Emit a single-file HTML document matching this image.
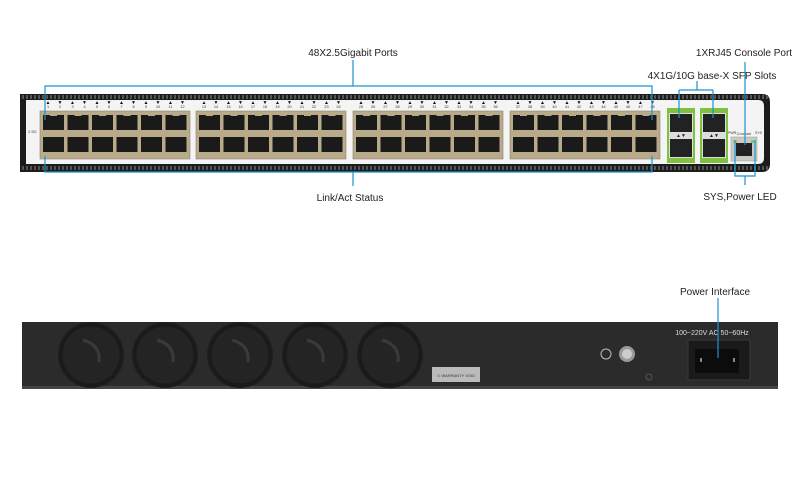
<!DOCTYPE html>
<html><head><meta charset="utf-8"><style>
html,body{margin:0;padding:0;background:#fff;width:800px;height:500px;overflow:hidden;font-family:"Liberation Sans",sans-serif}
</style></head><body>
<svg width="800" height="500" viewBox="0 0 800 500" xmlns="http://www.w3.org/2000/svg" id="s" font-family="Liberation Sans, sans-serif">
<!-- front body -->
<path d="M20 94 H762 Q770 94 770 102 V164 Q770 172 762 172 H20 Z" fill="#1c1c1c"/>
<g id="teeth"></g>
<path d="M26 100 H758 Q764 100 764 106 V158 Q764 164 758 164 H26 Z" fill="#f4f4f4"/>
<g id="ports"></g>
<!-- SFP -->
<g id="sfp"></g>
<!-- console -->
<rect x="731" y="137" width="26" height="24" fill="#c9c9c6" stroke="#999" stroke-width="0.5"/>
<rect x="736" y="143" width="16" height="13" fill="#222"/>
<rect x="733" y="140" width="4" height="3" fill="#c8b850"/>
<rect x="751" y="140" width="4" height="3" fill="#7c7"/>
<text x="744" y="135" font-size="4" text-anchor="middle" fill="#333">Console</text>
<text x="728" y="134" font-size="3.5" fill="#333">PWR</text>
<text x="755" y="134" font-size="3.5" fill="#333">SYS</text>
<text x="28" y="133" font-size="4" fill="#444">2.5G</text>
<!-- rear -->
<rect x="22" y="322" width="756" height="66" fill="#2b2b2b"/>
<rect x="22" y="386" width="756" height="3" fill="#444"/>
<g id="fans"></g>
<rect x="432" y="367" width="48" height="15" fill="#bbb"/>
<text x="456" y="377" font-size="4" text-anchor="middle" fill="#333">⚠ WARRANTY VOID</text>
<circle cx="606" cy="354" r="5" fill="none" stroke="#bbb" stroke-width="1"/>
<circle cx="627" cy="354" r="8" fill="#999"/>
<circle cx="627" cy="354" r="5" fill="#ccc"/>
<circle cx="649" cy="377" r="3" fill="none" stroke="#555"/>
<rect x="688" y="340" width="62" height="40" fill="#1a1a1a" stroke="#3a3a3a"/>
<rect x="695" y="349" width="44" height="24" rx="2" fill="#0c0c0c"/>
<rect x="700" y="358" width="2" height="4" fill="#888"/><rect x="733" y="358" width="2" height="4" fill="#888"/>
<text x="712" y="335" font-size="7" text-anchor="middle" fill="#ddd">100~220V  AC   50~60Hz</text>
<!-- callouts -->
<g stroke="#1995cf" stroke-width="1.2" fill="none">
<path d="M353 60 V86 M45 120 V86 H652 V120"/>
<path d="M45 156 V172 H652 V156 M353 172 V186"/>
<path d="M697 81 V90 M679 90 H713 M679 90 V118 M713 90 V118"/>
<path d="M745 62 V145"/>
<path d="M735 140 V176 H755 V140 M745 176 V185"/>
<path d="M718 298 V358"/>
</g>
<g font-size="10" fill="#222" text-anchor="middle">
<text x="353" y="56">48X2.5Gigabit  Ports</text>
<text x="350" y="201">Link/Act Status</text>
<text x="744" y="56">1XRJ45 Console Port</text>
<text x="712" y="79">4X1G/10G base-X SFP Slots</text>
<text x="740" y="200">SYS,Power LED</text>
<text x="715" y="295">Power Interface</text>
</g>
</svg>
<script>
var NS="http://www.w3.org/2000/svg";
function el(p,t,a,txt){var e=document.createElementNS(NS,t);for(var k in a)e.setAttribute(k,a[k]);if(txt)e.textContent=txt;document.getElementById(p).appendChild(e);}
for(var x=22;x<768;x+=4){el("teeth","rect",{x:x,y:95,width:2,height:4,fill:"#555"});el("teeth","rect",{x:x,y:166,width:2,height:4,fill:"#555"});}
var blocks=[40,196,353,510],n=1;
blocks.forEach(function(bx){
 el("ports","rect",{x:bx,y:111,width:150,height:48,fill:"#b9ab8a",stroke:"#8a8270","stroke-width":0.6});
 for(var i=0;i<6;i++){
  var px=bx+3+i*24.5;
  for(var r=0;r<2;r++){
   var py=115+r*22;
   el("ports","rect",{x:px,y:py,width:21,height:15,fill:"#1a1a1a"});
   el("ports","rect",{x:px+7,y:py+(r?15:-1),width:7,height:2,fill:"#b9ab8a"});
  }
  for(var r2=0;r2<2;r2++){
   var cx=px+5+r2*12,num=n++;
   el("ports","text",{x:cx,y:108,"font-size":3.8,"text-anchor":"middle",fill:"#333"},String(num));
   el("ports","text",{x:cx,y:104,"font-size":5,"text-anchor":"middle",fill:"#111"},num%2?"▲":"▼");
  }
 }
});
[667,700].forEach(function(sx,j){
 el("sfp","rect",{x:sx,y:108,width:28,height:55,fill:"#7fc241"});
 el("sfp","rect",{x:sx+2,y:113,width:24,height:45,fill:"#ddd"});
 el("sfp","rect",{x:sx+3,y:114,width:22,height:18,fill:"#222"});
 el("sfp","rect",{x:sx+3,y:139,width:22,height:18,fill:"#222"});
 el("sfp","text",{x:sx+14,y:137,"font-size":5,"text-anchor":"middle",fill:"#222"},"▲▼");
});
[91,165,240,315,390].forEach(function(cx){
 el("fans","circle",{cx:cx,cy:355,r:33,fill:"#1e1e1e"});
 el("fans","circle",{cx:cx,cy:355,r:30,fill:"#242424",stroke:"#1a1a1a","stroke-width":3});
 el("fans","path",{d:"M"+(cx-8)+" 340 Q"+(cx+10)+" 345 "+(cx+8)+" 362",stroke:"#3a3a3a","stroke-width":3,fill:"none"});
});
</script>
</body></html>
